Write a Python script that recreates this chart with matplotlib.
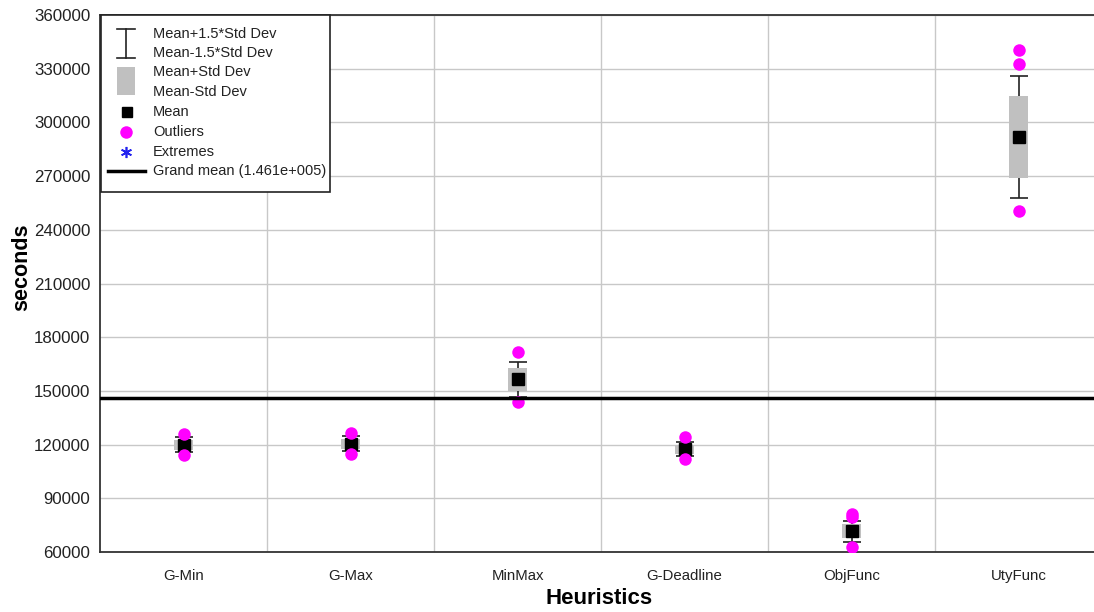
import numpy as np
import matplotlib.pyplot as plt
from matplotlib.patches import Rectangle

plt.rcParams['font.family'] = ['Liberation Sans', 'DejaVu Sans']

# data
heuristics = ['G-Min', 'G-Max', 'MinMax', 'G-Deadline', 'ObjFunc', 'UtyFunc']
means = [120000, 120500, 156500, 117500, 71700, 292000]
std_devs = [2800, 2800, 6500, 2500, 3900, 22800]
outliers = [
    [125800, 114200],
    [126500, 114800],
    [171900, 144000],
    [124300, 111800],
    [81200, 79800, 63000],
    [340400, 332600, 250500],
]
grand_mean = 146100
y_ticks = [60000, 90000, 120000, 150000, 180000, 210000, 240000, 270000, 300000, 330000, 360000]

W, H = 1094, 612
fig = plt.figure(figsize=(W / 100, H / 100), dpi=100)
ax = fig.add_axes([100 / W, 1 - 552 / H, 1 - 100 / W, (552 - 15) / H])

x = np.arange(1, len(heuristics) + 1)
means = np.array(means)
std_devs = np.array(std_devs)

# whiskers at mean +/- 1.5 sd
ax.errorbar(x, means, yerr=1.5 * std_devs, fmt='none', ecolor='#222222',
            elinewidth=1.2, capsize=6.8, capthick=1.2, zorder=3)
# box at mean +/- sd
ax.bar(x, 2 * std_devs, bottom=means - std_devs, width=0.114,
       color='#c0c0c0', zorder=4)
# mean markers
ax.plot(x, means, 's', color='black', markersize=8, zorder=5)
# outliers
for xi, outs in zip(x, outliers):
    ax.plot([xi] * len(outs), outs, 'o', color='#ff00ff', markersize=9,
            markeredgewidth=0, zorder=6)

ax.axhline(grand_mean, color='black', lw=2.5, zorder=7)

ax.set_xlim(0.5, 0.5 + (W - 100) / 167)
ax.set_ylim(60000, 360000)
ax.set_yticks(y_ticks)
ax.set_yticklabels([str(t) for t in y_ticks], fontsize=12.2, color='#222222')
ax.set_xticks(x)
ax.set_xticklabels(heuristics, fontsize=10.8, color='#222222')
ax.set_xticks(np.arange(1.5, 6.5, 1), minor=True)
ax.tick_params(axis='both', which='both', length=0)
ax.tick_params(axis='y', pad=7)
ax.tick_params(axis='x', pad=12)
ax.grid(True, axis='y', which='major', color='#c8c8c8', lw=1, zorder=0)
ax.grid(True, axis='x', which='minor', color='#c8c8c8', lw=1, zorder=0)
ax.set_axisbelow(True)

for s in ['left', 'bottom', 'top']:
    ax.spines[s].set_color('#333333')
    ax.spines[s].set_linewidth(1.3)
ax.spines['right'].set_visible(False)

# axis titles placed where the reference has them
fig.text(22 / W, 1 - 267 / H, 'seconds', fontsize=15.5, fontweight='bold',
         rotation=90, ha='center', va='center')
fig.text(599 / W, 1 - 598 / H, 'Heuristics', fontsize=16, fontweight='bold',
         ha='center', va='center')

# legend drawn by hand in pixel coordinates
lg = fig.add_axes([0, 0, 1, 1], facecolor='none')
lg.set_xlim(0, W)
lg.set_ylim(H, 0)
lg.axis('off')
lg.add_patch(Rectangle((101, 15), 229, 177, facecolor='white',
                       edgecolor='#222222', lw=1.2))
lg.plot([126, 126], [28.5, 57.5], color='#222222', lw=1.2)
lg.plot([117, 135], [28.5, 28.5], color='#222222', lw=1.2)
lg.plot([117, 135], [57.5, 57.5], color='#222222', lw=1.2)
lg.add_patch(Rectangle((117, 66.5), 17.5, 28.5, facecolor='#c0c0c0', edgecolor='none'))
lg.plot(126.5, 112, 's', color='black', markersize=7.5)
lg.plot(126, 131.5, 'o', color='#ff00ff', markersize=9, markeredgewidth=0)
lg.plot(126, 151.5, marker=(6, 2, 0), color='#2222ee', markersize=8, markeredgewidth=1.2)
lg.plot([108, 145], [170.5, 170.5], color='black', lw=2.5)

legend_labels = ['Mean+1.5*Std Dev', 'Mean-1.5*Std Dev', 'Mean+Std Dev', 'Mean-Std Dev',
                 'Mean', 'Outliers', 'Extremes', 'Grand mean (1.461e+005)']
rows = [33.5, 53, 72.5, 92, 112, 131.5, 151.5, 171]
for lab, ry in zip(legend_labels, rows):
    lg.text(153, ry, lab, fontsize=10.5, va='center', ha='left', color='#222222')

fig.savefig('out.png', dpi=100)
